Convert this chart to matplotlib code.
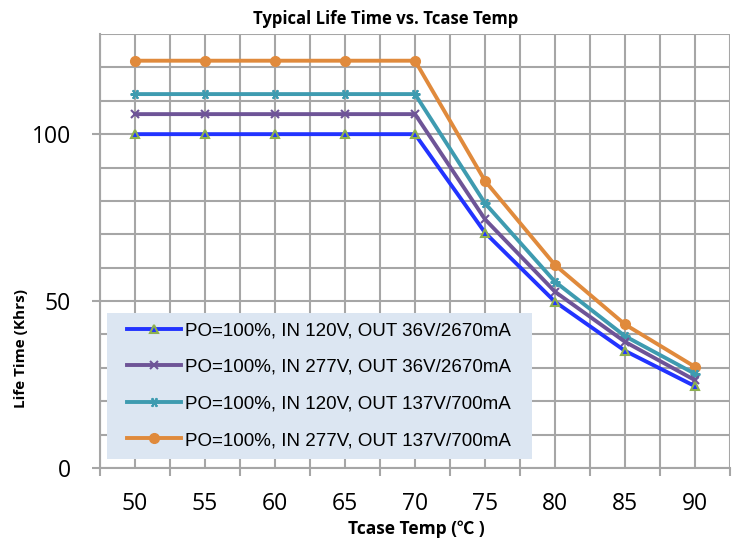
import matplotlib.pyplot as plt
import matplotlib.patches as patches
import numpy as np
from matplotlib.ticker import FixedLocator, NullFormatter

temps = [50, 55, 60, 65, 70, 75, 80, 85, 90]
life_120_36v = [100, 100, 100, 100, 100, 70.5, 49.8, 35.1, 24.5]
life_277_36v = [106, 106, 106, 106, 106, 74.5, 52.8, 37.8, 26.3]
life_120_137v = [112, 112, 112, 112, 112, 79.3, 55.8, 39.5, 28.2]
life_277_137v = [122, 122, 122, 122, 122, 86.0, 60.8, 43.0, 30.3]
labels = ["PO=100%, IN 120V, OUT 36V/2670mA",
          "PO=100%, IN 277V, OUT 36V/2670mA",
          "PO=100%, IN 120V, OUT 137V/700mA",
          "PO=100%, IN 277V, OUT 137V/700mA"]

W, H = 739, 538
fig = plt.figure(figsize=(W / 100, H / 100), dpi=100)
ax = fig.add_axes([100 / W, 1 - 468 / H, 630 / W, 434 / H])

grid_c = '#A6A6A6'
ax.plot(temps, life_120_36v, color='#2233FF', lw=2.8, marker='^', ms=6,
        mfc='#2233FF', mec='#8DB050', mew=1.5, label=labels[0], zorder=5)
ax.plot(temps, life_277_36v, color='#6E5497', lw=2.8, marker='x', ms=6,
        mew=1.5, label=labels[1], zorder=4)
ax.plot(temps, life_120_137v, color='#3E9BB0', lw=2.8, marker=(6, 2, 90), ms=7,
        mew=1.5, label=labels[2], zorder=3)
ax.plot(temps, life_277_137v, color='#E08A3C', lw=2.8, marker='o', ms=7,
        label=labels[3], zorder=2)

ax.set_xlim(47.5, 92.5)
ax.set_ylim(0, 130)

# category axis: tick marks between categories, labels on categories
bounds = np.arange(47.5, 93, 5)
ax.xaxis.set_major_locator(FixedLocator(temps))
ax.xaxis.set_minor_locator(FixedLocator(bounds))
ax.tick_params(axis='x', which='major', length=0, labelsize=16.5, pad=17)
ax.tick_params(axis='x', which='minor', length=6, width=1.5, color=grid_c, direction='out')
ax.set_yticks([0, 50, 100])
ax.yaxis.set_minor_locator(FixedLocator(np.arange(0, 131, 10)))
ax.yaxis.set_minor_formatter(NullFormatter())
ax.tick_params(axis='y', which='major', length=6, width=1.5, color=grid_c, labelsize=16.5, pad=15)
ax.tick_params(axis='y', which='minor', length=0)

ax.grid(True, which='both', color=grid_c, lw=1.5, zorder=0)
ax.set_axisbelow(True)
for s in ['top', 'right']:
    ax.spines[s].set_visible(False)
for s in ['left', 'bottom']:
    ax.spines[s].set_color(grid_c)
    ax.spines[s].set_linewidth(1.5)

for t in ax.get_xticklabels() + ax.get_yticklabels():
    t.set_fontfamily('Open Sans')

fig.text(386 / W, 1 - 19 / H, 'Typical Life Time vs. Tcase Temp', fontsize=12,
         fontweight='bold', family='Open Sans', ha='center', va='center')
fig.text(416 / W, 1 - 529 / H, 'Tcase Temp (℃ )', fontsize=12.5, fontweight='bold',
         family=['Open Sans', 'Noto Sans CJK SC'], ha='center', va='center')
fig.text(21 / W, 1 - 348 / H, 'Life Time (Khrs)', fontsize=11, fontweight='bold',
         family='Open Sans', ha='center', va='center', rotation=90)

# legend background box
ax.add_patch(patches.Rectangle((107 / W, 1 - 459 / H), 425 / W, 146 / H,
                               transform=fig.transFigure, fc='#DCE6F2', ec='none',
                               zorder=1.5))
leg = ax.legend(loc='upper left', bbox_to_anchor=(127 / W, 1 - 322 / H),
                bbox_transform=fig.transFigure, frameon=False,
                prop={'family': 'Liberation Sans', 'size': 13.5}, handlelength=2.9,
                handletextpad=0.2, labelspacing=1.04, borderpad=0, borderaxespad=0)
leg.set_zorder(6)

fig.savefig('out.png', dpi=100)
